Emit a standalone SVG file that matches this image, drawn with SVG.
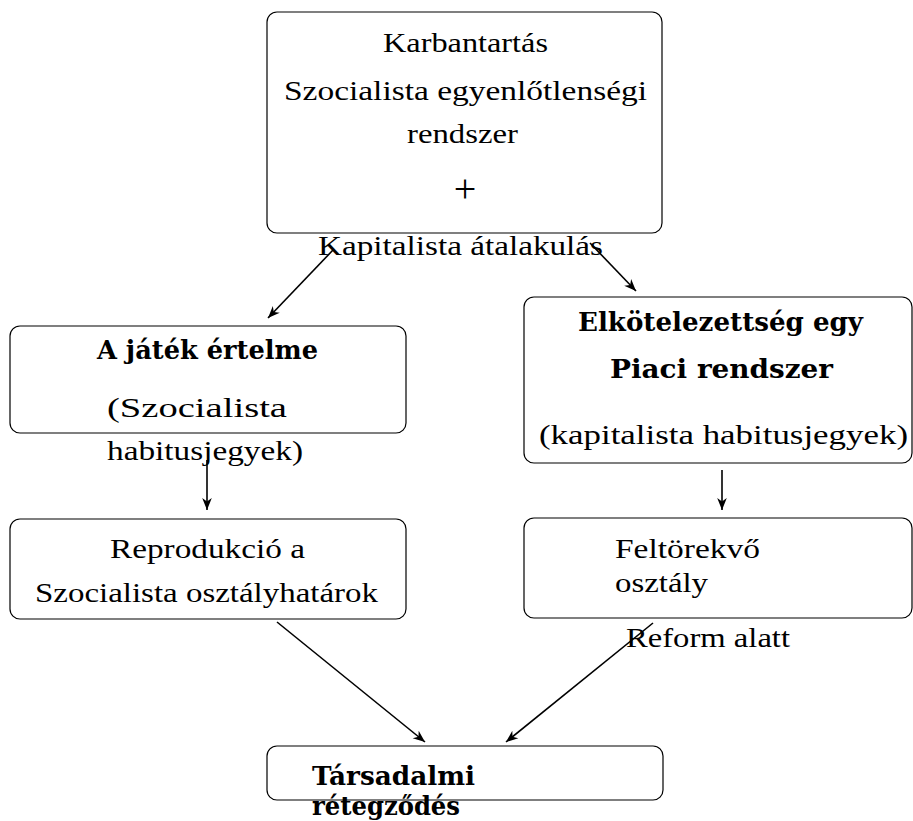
<svg xmlns="http://www.w3.org/2000/svg" width="913" height="821" viewBox="0 0 913 821">
<style>
.box{fill:#fff;stroke:#000;stroke-width:1.2}
.t{font-family:"Liberation Serif","Times New Roman","DejaVu Serif",serif;font-size:28px;fill:#000}
.b{font-family:"DejaVu Serif","Liberation Serif",serif;font-size:26px;font-weight:bold;fill:#000}
.c{stroke:#000;stroke-width:1.6;fill:none;marker-end:url(#ah)}
</style>
<defs>
<marker id="ah" viewBox="0 0 10 10" refX="10" refY="5" markerWidth="12" markerHeight="12" markerUnits="userSpaceOnUse" orient="auto">
<path d="M0,1 L10,5 L0,9 L3,5 Z" fill="#000"/>
</marker>
</defs>
<rect width="913" height="821" fill="#fff"/>
<g id="n1">
<rect class="box" x="267" y="12" width="395" height="221" rx="10"/>
<text class="t" x="383" y="52" textLength="165" lengthAdjust="spacingAndGlyphs">Karbantartás</text>
<text class="t" x="284" y="100" textLength="363" lengthAdjust="spacingAndGlyphs">Szocialista egyenlőtlenségi</text>
<text class="t" x="407" y="143" textLength="111" lengthAdjust="spacingAndGlyphs">rendszer</text>
<text class="t" x="465" y="202" text-anchor="middle" style="font-size:40px">+</text>
<text class="t" x="318" y="255" textLength="285" lengthAdjust="spacingAndGlyphs">Kapitalista átalakulás</text>
</g>
<g id="n2">
<rect class="box" x="10" y="326" width="396" height="107" rx="10"/>
<text class="b" x="97" y="359" textLength="221" lengthAdjust="spacingAndGlyphs">A játék értelme</text>
<text class="t" x="107" y="417" textLength="180" lengthAdjust="spacingAndGlyphs">(Szocialista</text>
<text class="t" x="107" y="460" textLength="196" lengthAdjust="spacingAndGlyphs">habitusjegyek)</text>
</g>
<g id="n3">
<rect class="box" x="524" y="297" width="388" height="166" rx="10"/>
<text class="b" x="578" y="331" textLength="285" lengthAdjust="spacingAndGlyphs">Elkötelezettség egy</text>
<text class="b" x="610" y="378" textLength="223" lengthAdjust="spacingAndGlyphs">Piaci rendszer</text>
<text class="t" x="539" y="444" textLength="369" lengthAdjust="spacingAndGlyphs">(kapitalista habitusjegyek)</text>
</g>
<g id="n4">
<rect class="box" x="10" y="519" width="396" height="100" rx="10"/>
<text class="t" x="110" y="558" textLength="195" lengthAdjust="spacingAndGlyphs">Reprodukció a</text>
<text class="t" x="35" y="602" textLength="343" lengthAdjust="spacingAndGlyphs">Szocialista osztályhatárok</text>
</g>
<g id="n5">
<rect class="box" x="524" y="518" width="388" height="100" rx="10"/>
<text class="t" x="615" y="558" textLength="145" lengthAdjust="spacingAndGlyphs">Feltörekvő</text>
<text class="t" x="615" y="592" textLength="93" lengthAdjust="spacingAndGlyphs">osztály</text>
<text class="t" x="626" y="647" textLength="164" lengthAdjust="spacingAndGlyphs">Reform alatt</text>
</g>
<g id="n6">
<rect class="box" x="267" y="746" width="396" height="54" rx="10"/>
<text class="b" x="312" y="785" textLength="163" lengthAdjust="spacingAndGlyphs">Társadalmi</text>
<text class="b" x="312" y="815" textLength="148" lengthAdjust="spacingAndGlyphs">rétegződés</text>
</g>
<g id="connectors">
<line class="c" x1="333" y1="250" x2="268" y2="318"/>
<line class="c" x1="590" y1="243" x2="636" y2="291"/>
<line class="c" x1="207" y1="460" x2="207" y2="510"/>
<line class="c" x1="722" y1="470" x2="722" y2="510"/>
<line class="c" x1="277" y1="622" x2="425" y2="742"/>
<line class="c" x1="653" y1="623" x2="506" y2="742"/>
</g>
</svg>
